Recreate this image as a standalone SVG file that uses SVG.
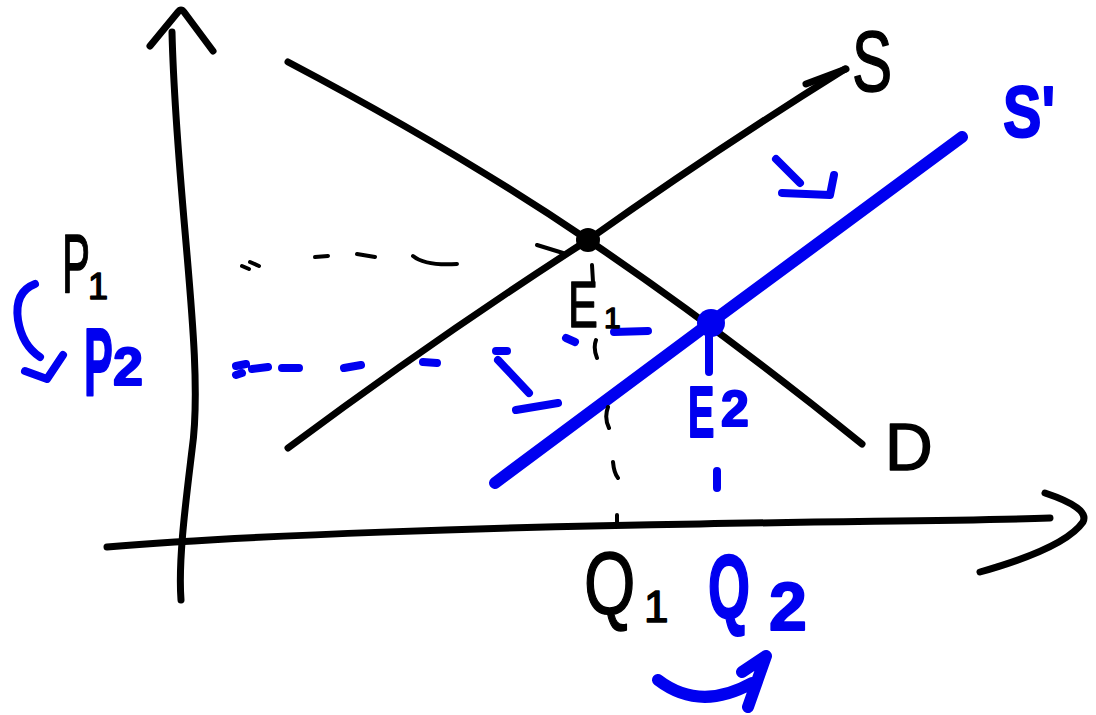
<svg xmlns="http://www.w3.org/2000/svg" width="1096" height="715" viewBox="0 0 1096 715">
<style>
.bk{fill:none;stroke:#000;stroke-width:7;stroke-linecap:round;stroke-linejoin:round}
.bd{fill:none;stroke:#000;stroke-width:4;stroke-linecap:round;stroke-linejoin:round}
.bl{fill:none;stroke:#0000f0;stroke-width:12;stroke-linecap:round;stroke-linejoin:round}
.bld{fill:none;stroke:#0000f0;stroke-width:8;stroke-linecap:round;stroke-linejoin:round}
.tk{font-family:"Liberation Sans",Arial,sans-serif;fill:#000;stroke:#000;stroke-width:1.5;stroke-linejoin:round}
.tb{font-family:"Liberation Sans",Arial,sans-serif;fill:#0000f0;font-weight:bold;stroke:#0000f0;stroke-width:2;stroke-linejoin:round}
</style>
<rect width="1096" height="715" fill="#fff"/>
<g id="axes">
<path class="bk" d="M172,32 C176,200 205,360 192,450 C186,500 178,560 181,600"/>
<path class="bk" d="M150,46 L178,12 Q181,8 184,12 L213,51"/>
<path class="bk" d="M107,547 C250,535 500,527 700,524 C850,521 960,521 1050,518"/>
<path class="bk" d="M1045,493 Q1090,508 1083,522 Q1065,548 980,572"/>
</g>
<g id="connectors">
<path id="demand" class="bk" d="M288,62 Q455,150 588,240 T862,444"/>
<path id="supply" class="bk" d="M288,448 Q440,335 588,240 Q715,150 845,69"/>
<path class="bk" d="M806,84 L846,69"/>
<path id="supply2" class="bl" d="M495,483 L710,323 L962,137"/>
<g id="p1-dash">
<path class="bd" d="M242,266 L249,269 M250,262 L259,266 M315,257 L328,256 M357,254 L375,257 M413,256 Q425,266 457,264 M537,245 L563,253"/>
</g>
<g id="q1-dash">
<path class="bd" d="M592,265 L593,282 M596,340 Q593,348 597,358 M608,407 Q604,418 609,428 M613,462 Q614,473 618,478 M617,515 L617,524"/>
</g>
<g id="p2-dash">
<path class="bld" d="M236,375 L242,373 M236,366 L246,364 M252,369 L268,367 M282,368 L299,368 M344,368 L361,365 M423,362 L437,363 M496,351 L507,351 M566,338 L575,342 M614,332 L648,331"/>
<path class="bld" d="M498,360 L529,393 M516,410 L558,403"/>
</g>
<g id="q2-dash">
<path class="bld" d="M709,336 L709,372 M717,471 L717,488"/>
</g>
<g id="shift-arrows">
<path class="bld" d="M776,159 L800,183 M782,193 L830,195 L834,175"/>
<path class="bld" stroke-width="10" d="M35,284 Q14,292 18,320 Q22,345 40,357 M25,371 L47,379 L63,355"/>
<path class="bl" d="M658,680 Q700,712 752,683 M742,672 L766,656 L748,707"/>
</g>
</g>
<g id="E1">
<circle cx="588" cy="240" r="12" fill="#000"/>
<text class="tk" font-size="64" transform="translate(568,327) scale(0.7,1)">E</text>
<text class="tk" font-size="30" x="604" y="328">1</text>
</g>
<g id="E2">
<circle cx="711" cy="323" r="14" fill="#0000f0"/>
<text class="tb" font-size="72" transform="translate(688,437) scale(0.55,1)">E</text>
<text class="tb" font-size="50" x="721" y="426">2</text>
</g>
<g id="P1">
<text class="tk" font-size="84" transform="translate(62,292) scale(0.5,1)">P</text>
<text class="tk" font-size="36" x="88" y="299">1</text>
</g>
<g id="P2">
<text class="tb" font-size="96" transform="translate(84,395) scale(0.45,1)">P</text>
<text class="tb" font-size="54" x="113" y="385">2</text>
</g>
<g id="S">
<text class="tk" font-size="86" transform="translate(852,91) scale(0.7,1)">S</text>
</g>
<g id="S2">
<text class="tb" font-size="72" transform="translate(1003,137) scale(0.8,1)">S'</text>
</g>
<g id="D">
<text class="tk" font-size="66" x="885" y="470">D</text>
</g>
<g id="Q1">
<text class="tk" font-size="88" transform="translate(584,614) scale(0.75,1)">Q</text>
<text class="tk" font-size="44" x="644" y="622">1</text>
</g>
<g id="Q2">
<text class="tb" font-size="90" transform="translate(708,618) scale(0.6,1)">Q</text>
<text class="tb" font-size="68" x="769" y="630">2</text>
</g>
</svg>
